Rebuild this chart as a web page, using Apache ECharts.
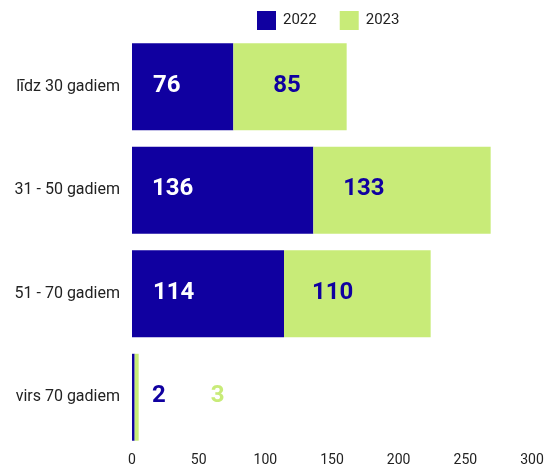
<!DOCTYPE html>
<html>
<head>
<meta charset="utf-8">
<script src="https://cdn.jsdelivr.net/npm/echarts@6/dist/echarts.min.js"></script>
<style>
html,body{margin:0;padding:0;background:#fff;}
#c{width:549px;height:467px;}
</style>
</head>
<body>
<div id="c"></div>
<script>
const categories = ['līdz 30 gadiem', '31 - 50 gadiem', '51 - 70 gadiem', 'virs 70 gadiem'];
const values2022 = [76, 136, 114, 2];
const values2023 = [85, 133, 110, 3];
const xTicks = [0, 50, 100, 150, 200, 250, 300];

// style-only settings
const blue = '#1000A0';
const green = '#C8EB78';
const gap2022 = [21, 20, 21, 20];
const gap2023 = [40, 30, 28, 76];
const FONT = 'Roboto';

function build(values, gaps, inColor, outColor) {
  return values.map((v, i) => ({
    value: v,
    label: { distance: gaps[i], color: v < 10 ? outColor : inColor }
  }));
}

const chart = echarts.init(document.getElementById('c'));
chart.setOption({
  animation: false,
  textStyle: { fontFamily: FONT },
  legend: {
    left: 257, top: 11, padding: 0,
    itemWidth: 19, itemHeight: 19, itemGap: 23,
    icon: 'rect',
    textStyle: { fontSize: 15, color: '#222', fontFamily: FONT, padding: [0, 0, 0, 2] },
    data: ['2022', '2023']
  },
  grid: { left: 132, right: 17, top: 35, bottom: 16, containLabel: false },
  xAxis: {
    type: 'value', min: xTicks[0], max: xTicks[xTicks.length - 1], interval: xTicks[1] - xTicks[0],
    splitLine: { show: false }, axisLine: { show: false }, axisTick: { show: false },
    axisLabel: { fontSize: 14, color: '#222', margin: 4, fontFamily: FONT }
  },
  yAxis: {
    type: 'category', inverse: true, data: categories,
    axisLine: { show: false }, axisTick: { show: false },
    axisLabel: { fontSize: 16, color: '#222', margin: 12, fontFamily: FONT }
  },
  series: [
    {
      name: '2022', type: 'bar', stack: 'a', barCategoryGap: '16%',
      itemStyle: { color: blue },
      label: { show: true, position: 'insideLeft', offset: [0, -1], fontSize: 24, fontWeight: 'bold', fontFamily: FONT },
      data: build(values2022, gap2022, '#ffffff', blue)
    },
    {
      name: '2023', type: 'bar', stack: 'a', barCategoryGap: '16%',
      itemStyle: { color: green },
      label: { show: true, position: 'insideLeft', offset: [0, -1], fontSize: 24, fontWeight: 'bold', fontFamily: FONT },
      data: build(values2023, gap2023, blue, green)
    }
  ]
});
</script>
</body>
</html>
